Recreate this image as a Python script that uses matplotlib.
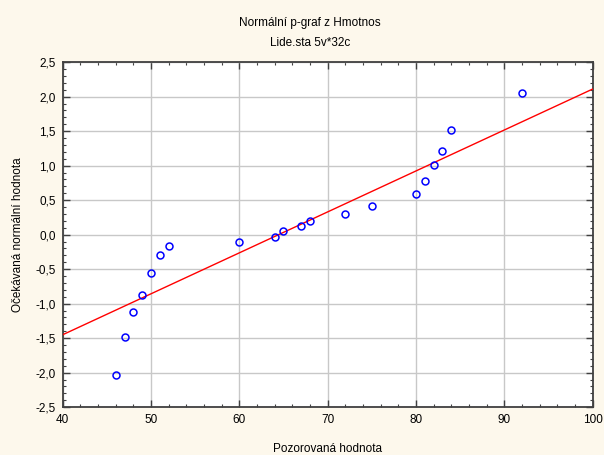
#!/usr/bin/env python3
# plot.py -- normal probability plot (Statistica style), Hmotnost
import matplotlib
matplotlib.use("Agg")
import matplotlib.pyplot as plt
from matplotlib.ticker import MultipleLocator, FuncFormatter

plt.rcParams["font.family"] = ["Liberation Sans", "DejaVu Sans"]

observed = [46, 47, 48, 49, 50, 51, 52, 60, 64, 65,
            67, 68, 72, 75, 80, 81, 82, 83, 84, 92]
expected = [-2.03, -1.48, -1.12, -0.87, -0.56, -0.29, -0.17, -0.10, -0.03, 0.06,
            0.13, 0.20, 0.295, 0.41, 0.59, 0.78, 1.01, 1.22, 1.52, 2.06]
# fitted reference line, ends at the x-axis limits
fit_x = [40, 100]
fit_y = [-1.45, 2.11]

TITLE1 = "Normální p-graf z Hmotnos"
TITLE2 = "Lide.sta 5v*32c"
XLABEL = "Pozorovaná hodnota"
YLABEL = "Očekávaná normální hodnota"

BG = "#fdf8ec"
fig = plt.figure(figsize=(6.04, 4.55), dpi=100, facecolor=BG)
ax = fig.add_axes([0.1038, 0.1051, 0.8772, 0.7582])
ax.set_facecolor("white")

ax.plot(fit_x, fit_y, color="#ff0000", lw=1.0, zorder=3)
ax.plot(observed, expected, ls="none", marker="o", ms=5, mfc="none",
        mec="#0000ff", mew=1.1, zorder=4)

ax.set_xlim(40, 100)
ax.set_ylim(-2.5, 2.5)
ax.xaxis.set_major_locator(MultipleLocator(10))
ax.xaxis.set_minor_locator(MultipleLocator(2))
ax.yaxis.set_major_locator(MultipleLocator(0.5))
ax.yaxis.set_minor_locator(MultipleLocator(0.1))
ax.yaxis.set_major_formatter(FuncFormatter(lambda v, p: ("%.1f" % v).replace(".", ",")))
ax.grid(True, which="major", color="#c8c8c8", lw=1.0, zorder=0)
ax.set_axisbelow(True)

ax.tick_params(which="both", direction="in", top=True, right=True,
               color="#404040", labelsize=8.5, pad=5)
ax.tick_params(which="major", length=5, width=1.0)
ax.tick_params(which="minor", length=2.5, width=0.8)
for s in ax.spines.values():
    s.set_color("#404040")
    s.set_linewidth(1.3)

ax.set_xlabel(XLABEL, fontsize=8.5, labelpad=12)
ax.set_ylabel(YLABEL, fontsize=8.5, labelpad=8)
fig.text(0.513, 0.949, TITLE1, ha="center", va="center", fontsize=8.5)
fig.text(0.513, 0.905, TITLE2, ha="center", va="center", fontsize=8.5)

fig.savefig("out.png", dpi=100, facecolor=BG)
